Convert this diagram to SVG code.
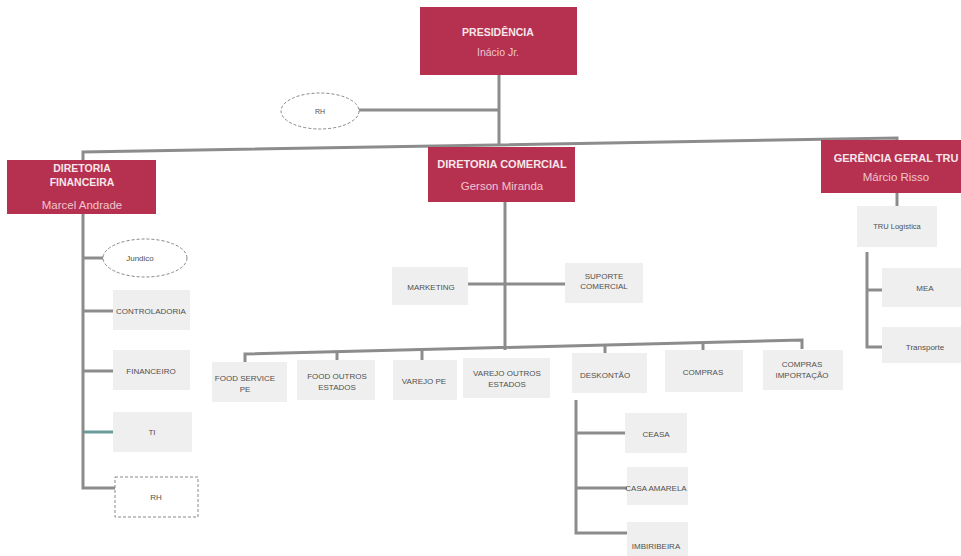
<svg xmlns="http://www.w3.org/2000/svg" width="961" height="556" viewBox="0 0 961 556">
<style>
.red{fill:#b6304f;}
.lt{fill:#efefef;}
.t{font-family:"Liberation Sans",Arial,sans-serif;text-anchor:middle;}
.h{font-size:10.5px;font-weight:bold;fill:#f6e6ea;}
.n{font-size:11.5px;fill:#f0c6d0;}
.s{font-size:8px;fill:#505050;}
.ln{fill:none;stroke:#8c8c8c;stroke-width:3;}
.dash{fill:#fff;stroke:#888;stroke-width:1;stroke-dasharray:3 2;}
</style>
<rect width="961" height="556" fill="#ffffff"/>
<g id="connectors">
<path class="ln" d="M499,75 V146"/>
<path class="ln" d="M359,110 H499"/>
<path class="ln" d="M83,160 V152 L897,138 V142"/>
<path class="ln" d="M505,148 V202"/>
<path class="ln" d="M83,214 V488 H115"/>
<path class="ln" d="M83,258 H104"/>
<path class="ln" d="M83,311 H113"/>
<path class="ln" d="M83,371 H113"/>
<path class="ln" d="M83,432 H113" style="stroke:#6a9a9a"/>
<path class="ln" d="M505,202 V350"/>
<path class="ln" d="M468,284 H566"/>
<path class="ln" d="M245,362 V354 L802,340 V349"/>
<path class="ln" d="M337,352 V360"/>
<path class="ln" d="M422,350 V360"/>
<path class="ln" d="M605,344 V353"/>
<path class="ln" d="M703,342 V350"/>
<path class="ln" d="M576,400 V533 H627"/>
<path class="ln" d="M576,433 H625"/>
<path class="ln" d="M576,488 H627"/>
<path class="ln" d="M897,193 V206"/>
<path class="ln" d="M867,252 V347 H882"/>
<path class="ln" d="M867,290 H882"/>
</g>
<g id="presidencia">
<rect class="red" x="420" y="7" width="157" height="68"/>
<text class="t h" x="498" y="36">PRESIDÊNCIA</text>
<text class="t n" x="498" y="56" style="font-size:10.5px">Inácio Jr.</text>
</g>
<g id="rh-top">
<ellipse class="dash" cx="320" cy="111" rx="39" ry="18"/>
<text class="t s" x="320" y="114" style="font-size:7px">RH</text>
</g>
<g id="dir-financeira">
<rect class="red" x="7" y="160" width="149" height="54"/>
<text class="t h" x="82" y="172">DIRETORIA</text>
<text class="t h" x="82" y="186">FINANCEIRA</text>
<text class="t n" x="82" y="209">Marcel Andrade</text>
</g>
<g id="dir-comercial">
<rect class="red" x="428" y="147" width="147" height="55"/>
<text class="t h" x="502" y="168" style="font-size:11px">DIRETORIA COMERCIAL</text>
<text class="t n" x="502" y="190">Gerson Miranda</text>
</g>
<g id="ger-tru">
<rect class="red" x="821" y="140" width="145" height="53"/>
<text class="t h" x="896" y="162" style="font-size:11px">GERÊNCIA GERAL TRU</text>
<text class="t n" x="896" y="181">Márcio Risso</text>
</g>
<g id="jundico">
<ellipse class="dash" cx="145" cy="258" rx="42" ry="19"/>
<text class="t s" x="140" y="261">Jundico</text>
</g>
<g id="controladoria">
<rect class="lt" x="113" y="290" width="77" height="40"/>
<text class="t s" x="151" y="314">CONTROLADORIA</text>
</g>
<g id="financeiro">
<rect class="lt" x="113" y="350" width="77" height="40"/>
<text class="t s" x="151" y="374">FINANCEIRO</text>
</g>
<g id="ti">
<rect class="lt" x="113" y="412" width="79" height="40"/>
<text class="t s" x="152" y="435">TI</text>
</g>
<g id="rh-fin">
<rect class="dash" x="115" y="477" width="83" height="40"/>
<text class="t s" x="156" y="500">RH</text>
</g>
<g id="marketing">
<rect class="lt" x="392" y="267" width="76" height="38"/>
<text class="t s" x="431" y="290">MARKETING</text>
</g>
<g id="suporte">
<rect class="lt" x="565" y="263" width="78" height="40"/>
<text class="t s" x="604" y="279">SUPORTE</text>
<text class="t s" x="604" y="289">COMERCIAL</text>
</g>
<g id="food-service">
<rect class="lt" x="212" y="362" width="75" height="40"/>
<text class="t s" x="245" y="381">FOOD SERVICE</text>
<text class="t s" x="245" y="392">PE</text>
</g>
<g id="food-outros">
<rect class="lt" x="297" y="360" width="78" height="40"/>
<text class="t s" x="337" y="379">FOOD OUTROS</text>
<text class="t s" x="337" y="390">ESTADOS</text>
</g>
<g id="varejo-pe">
<rect class="lt" x="393" y="360" width="64" height="40"/>
<text class="t s" x="424" y="384">VAREJO  PE</text>
</g>
<g id="varejo-outros">
<rect class="lt" x="463" y="358" width="87" height="40"/>
<text class="t s" x="507" y="376">VAREJO OUTROS</text>
<text class="t s" x="507" y="387">ESTADOS</text>
</g>
<g id="deskontao">
<rect class="lt" x="572" y="353" width="75" height="40"/>
<text class="t s" x="605" y="378">DESKONTÃO</text>
</g>
<g id="compras">
<rect class="lt" x="665" y="350" width="78" height="42"/>
<text class="t s" x="703" y="375">COMPRAS</text>
</g>
<g id="compras-imp">
<rect class="lt" x="763" y="350" width="80" height="40"/>
<text class="t s" x="802" y="367">COMPRAS</text>
<text class="t s" x="802" y="378">IMPORTAÇÃO</text>
</g>
<g id="ceasa">
<rect class="lt" x="625" y="413" width="62" height="40"/>
<text class="t s" x="656" y="437">CEASA</text>
</g>
<g id="casa-amarela">
<rect class="lt" x="627" y="467" width="61" height="38"/>
<text class="t s" x="656" y="491">CASA AMARELA</text>
</g>
<g id="imbiribeira">
<rect class="lt" x="627" y="522" width="61" height="34"/>
<text class="t s" x="656" y="549">IMBIRIBEIRA</text>
</g>
<g id="tru-logistica">
<rect class="lt" x="857" y="206" width="80" height="41"/>
<text class="t s" x="897" y="229" style="font-size:7.5px">TRU Logística</text>
</g>
<g id="mea">
<rect class="lt" x="882" y="268" width="82" height="39"/>
<text class="t s" x="925" y="291">MEA</text>
</g>
<g id="transporte">
<rect class="lt" x="882" y="327" width="82" height="36"/>
<text class="t s" x="925" y="350">Transporte</text>
</g>
</svg>
